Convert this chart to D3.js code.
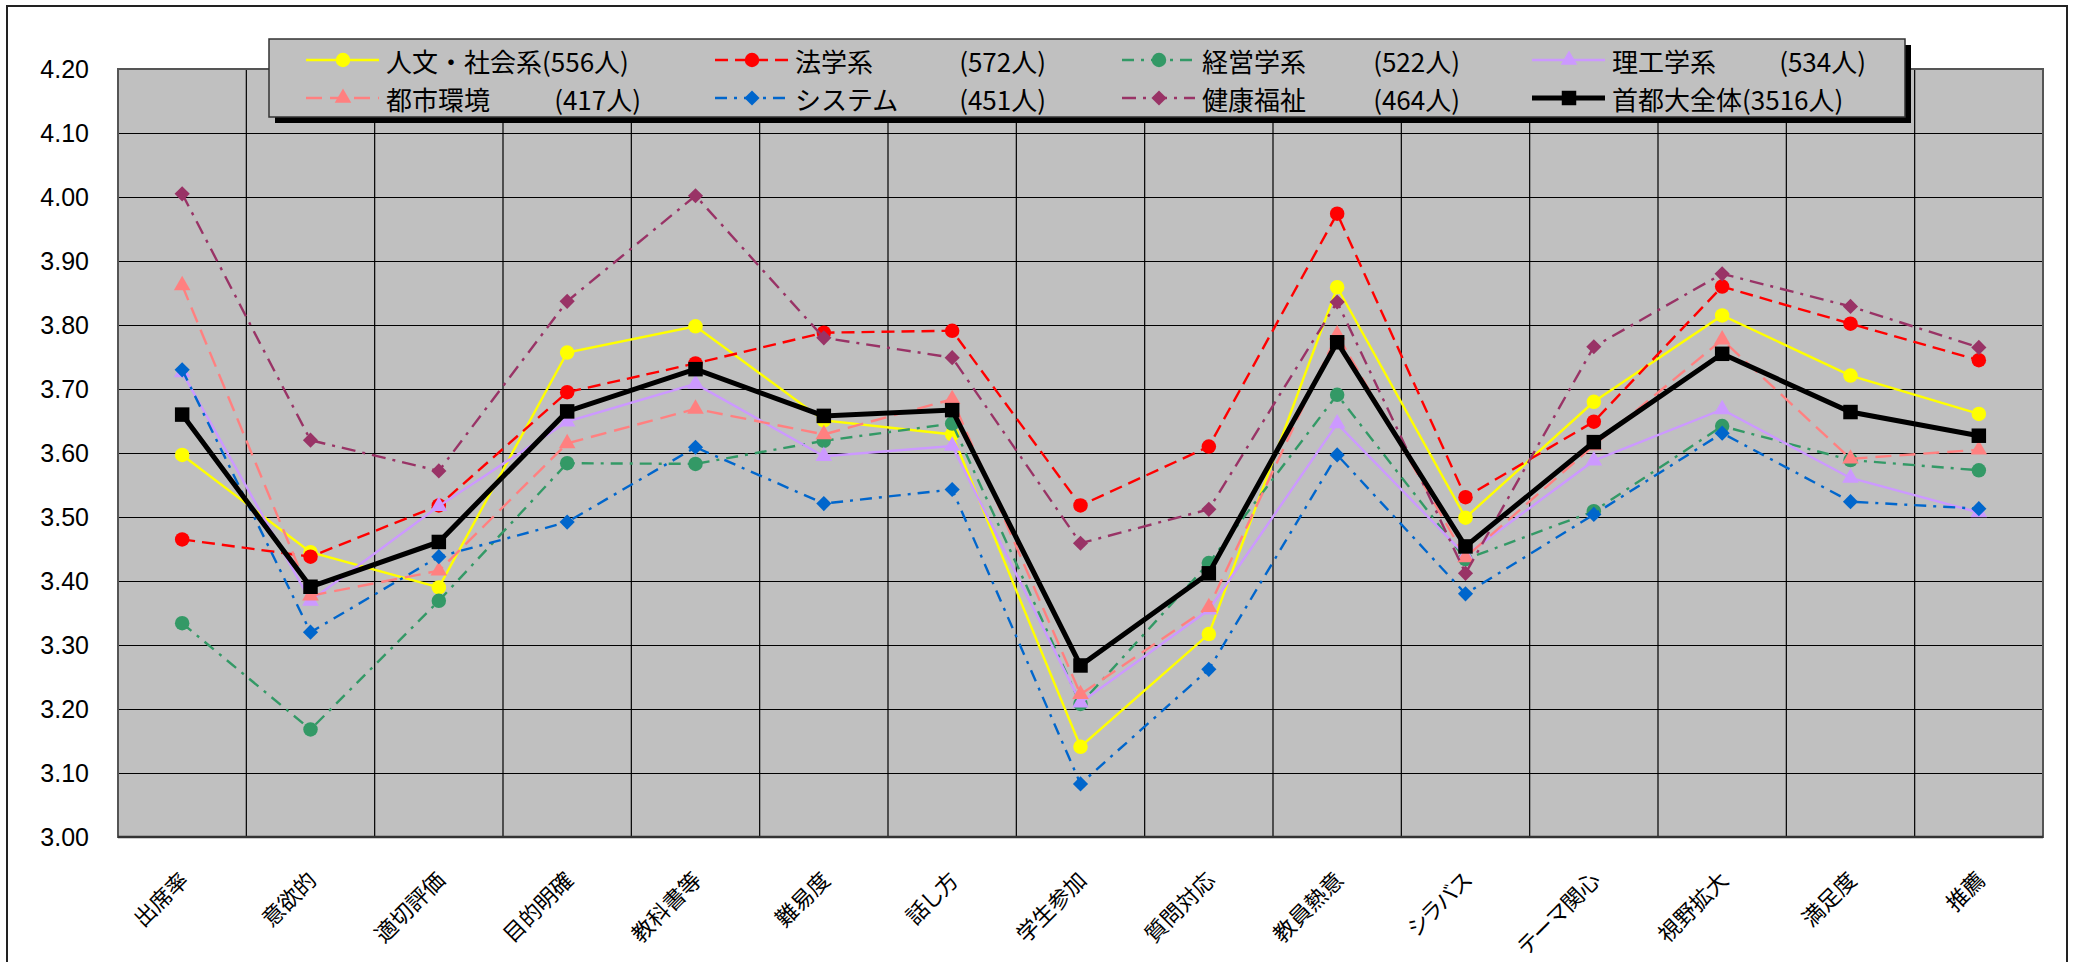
<!DOCTYPE html>
<html>
<head>
<meta charset="utf-8">
<script src="https://cdn.jsdelivr.net/npm/d3@7"></script>
<style>
html,body{margin:0;padding:0;background:#fff;}
svg{display:block;}
.xl{font-feature-settings:"palt";}
</style>
</head>
<body>
<svg id="chart" width="2075" height="962"></svg>
<script>
const categories = ["出席率","意欲的","適切評価","目的明確","教科書等","難易度","話し方","学生参加","質問対応","教員熱意","シラバス","テーマ関心","視野拡大","満足度","推薦"];
const yTicks = [3.00,3.10,3.20,3.30,3.40,3.50,3.60,3.70,3.80,3.90,4.00,4.10,4.20];

const seriesNames = ["人文・社会系","法学系","経営学系","理工学系","都市環境","システム","健康福祉","首都大全体"];
const seriesCounts = ["(556人)","(572人)","(522人)","(534人)","(417人)","(451人)","(464人)","(3516人)"];

const jinbun  = [3.597,3.445,3.390,3.757,3.798,3.651,3.629,3.141,3.317,3.859,3.499,3.680,3.815,3.721,3.661];
const hogaku  = [3.465,3.438,3.518,3.695,3.740,3.788,3.791,3.518,3.610,3.974,3.531,3.649,3.860,3.802,3.745];
const keiei   = [3.334,3.168,3.369,3.584,3.583,3.619,3.646,3.208,3.428,3.691,3.434,3.509,3.642,3.589,3.573];
const riko    = [3.726,3.369,3.517,3.649,3.708,3.595,3.611,3.210,3.355,3.646,3.440,3.588,3.668,3.561,3.507];
const toshi   = [3.862,3.377,3.416,3.615,3.669,3.629,3.684,3.223,3.359,3.785,3.437,3.612,3.777,3.591,3.605];
const system  = [3.730,3.320,3.438,3.492,3.609,3.521,3.543,3.083,3.262,3.597,3.380,3.504,3.631,3.524,3.513];
const kenko   = [4.005,3.620,3.572,3.837,4.002,3.780,3.749,3.459,3.512,3.836,3.412,3.766,3.880,3.829,3.765];
const zentai  = [3.660,3.391,3.461,3.665,3.731,3.658,3.667,3.268,3.412,3.773,3.454,3.617,3.755,3.664,3.627];

const seriesValues = [jinbun,hogaku,keiei,riko,toshi,system,kenko,zentai];

const styles = [
  {color:"#ffff00", width:2.4, dash:null,          shape:"circle",   size:165},
  {color:"#ff0000", width:2.4, dash:"13,7",        shape:"circle",   size:165},
  {color:"#339966", width:2.4, dash:"12,7,3,7",    shape:"circle",   size:165},
  {color:"#cc99ff", width:2.4, dash:null,          shape:"triangle", size:120},
  {color:"#ff8080", width:2.4, dash:"16,8",        shape:"triangle", size:120},
  {color:"#0066cc", width:2.4, dash:"12,7,3,7",    shape:"diamond",  size:115},
  {color:"#993366", width:2.4, dash:"14,7,3,7",    shape:"diamond",  size:115},
  {color:"#000000", width:5,   dash:null,          shape:"square",   size:210}
];

(function(){
const svg = d3.select("#chart");
const W = 2075, H = 962;
const pL = 118, pR = 2043, pT = 69, pB = 837;
const jp = "'Noto Sans CJK JP', sans-serif";

// outer border
svg.append("rect").attr("x",7).attr("y",6).attr("width",2060).attr("height",H+10)
  .attr("fill","#fff").attr("stroke","#222").attr("stroke-width",2);

const x = d3.scaleBand().domain(categories).range([pL,pR]).padding(0);
const y = d3.scaleLinear().domain([3.0,4.2]).range([pB,pT]);

// plot area
svg.append("rect").attr("x",pL).attr("y",pT).attr("width",pR-pL).attr("height",pB-pT)
  .attr("fill","#c0c0c0");

// horizontal gridlines + labels via axis
const yAxis = d3.axisLeft(y).tickValues(yTicks).tickFormat(d3.format(".2f"))
  .tickSizeInner(-(pR-pL)).tickSizeOuter(0).tickPadding(29);
const gy = svg.append("g").attr("transform",`translate(${pL},0)`).call(yAxis);
gy.select(".domain").remove();
gy.selectAll(".tick line").attr("stroke","#000").attr("stroke-width",1.2);
gy.selectAll(".tick text").attr("font-family","'Liberation Sans', Arial, sans-serif")
  .attr("font-size",25).attr("fill","#000");

// vertical gridlines at category boundaries
svg.append("g").selectAll("line").data(categories.slice(1)).join("line")
  .attr("x1",d=>x(d)).attr("x2",d=>x(d)).attr("y1",pT).attr("y2",pB)
  .attr("stroke","#000").attr("stroke-width",1.2);

// plot border
svg.append("rect").attr("x",pL).attr("y",pT).attr("width",pR-pL).attr("height",pB-pT)
  .attr("fill","none").attr("stroke","#555").attr("stroke-width",2);
svg.append("line").attr("x1",pL).attr("x2",pR).attr("y1",pB).attr("y2",pB)
  .attr("stroke","#333").attr("stroke-width",2.5);

// x labels
const cx = d => x(d) + x.bandwidth()/2;
svg.append("g").selectAll("text").data(categories).join("text")
  .attr("class","xl")
  .attr("transform",d=>`translate(${cx(d)-4},${pB+33}) rotate(-45)`)
  .attr("text-anchor","end").attr("dy","0.75em")
  .attr("font-family",jp).attr("font-size",22).attr("fill","#000")
  .text(d=>d);

function symPath(shape,size){
  if(shape==="circle") return d3.symbol().type(d3.symbolCircle).size(size)();
  if(shape==="triangle") return d3.symbol().type(d3.symbolTriangle).size(size)();
  return d3.symbol().type(d3.symbolSquare).size(size)();
}
function symTransform(shape,px,py){
  return shape==="diamond" ? `translate(${px},${py}) rotate(45)` : `translate(${px},${py})`;
}

// series
const line = d3.line().x((d,i)=>cx(categories[i])).y(d=>y(d));
seriesValues.forEach((vals,si)=>{
  const s = styles[si];
  const g = svg.append("g");
  g.append("path").attr("d",line(vals)).attr("fill","none").attr("stroke",s.color)
    .attr("stroke-width",s.width).attr("stroke-dasharray",s.dash).attr("stroke-linejoin","miter");
  g.selectAll("path.m").data(vals).join("path").attr("class","m")
    .attr("d",symPath(s.shape,s.size))
    .attr("transform",(d,i)=>symTransform(s.shape,cx(categories[i]),y(d)))
    .attr("fill",s.color);
});

// legend
const lg = svg.append("g");
lg.append("rect").attr("x",275).attr("y",45).attr("width",1636).attr("height",78).attr("fill","#000");
lg.append("rect").attr("x",269).attr("y",39).attr("width",1636).attr("height",78)
  .attr("fill","#c0c0c0").attr("stroke","#333").attr("stroke-width",1.5);
const colX = [386,795,1202,1612];
const colEnd = [641,1046,1460,1866];
const rowY = [60,98];
seriesNames.forEach((name,i)=>{
  const c = i%4, r = Math.floor(i/4);
  const s = styles[i];
  const tx = colX[c], ty = rowY[r];
  lg.append("line").attr("x1",tx-80).attr("x2",tx-7).attr("y1",ty).attr("y2",ty)
    .attr("stroke",s.color).attr("stroke-width",s.width).attr("stroke-dasharray",s.dash);
  lg.append("path").attr("d",symPath(s.shape,s.size)).attr("transform",symTransform(s.shape,tx-43,ty)).attr("fill",s.color);
  const attached = (i===0 || i===7);
  const t = lg.append("text").attr("x",tx).attr("y",ty).attr("dominant-baseline","central")
    .attr("font-family",jp).attr("font-size",26).attr("fill","#000");
  if(attached){
    t.text(name+seriesCounts[i]);
  } else {
    t.text(name);
    lg.append("text").attr("x",colEnd[c]).attr("y",ty).attr("dominant-baseline","central")
      .attr("text-anchor","end")
      .attr("font-family",jp).attr("font-size",26).attr("fill","#000")
      .text(seriesCounts[i]);
  }
});
})();
</script>
</body>
</html>
